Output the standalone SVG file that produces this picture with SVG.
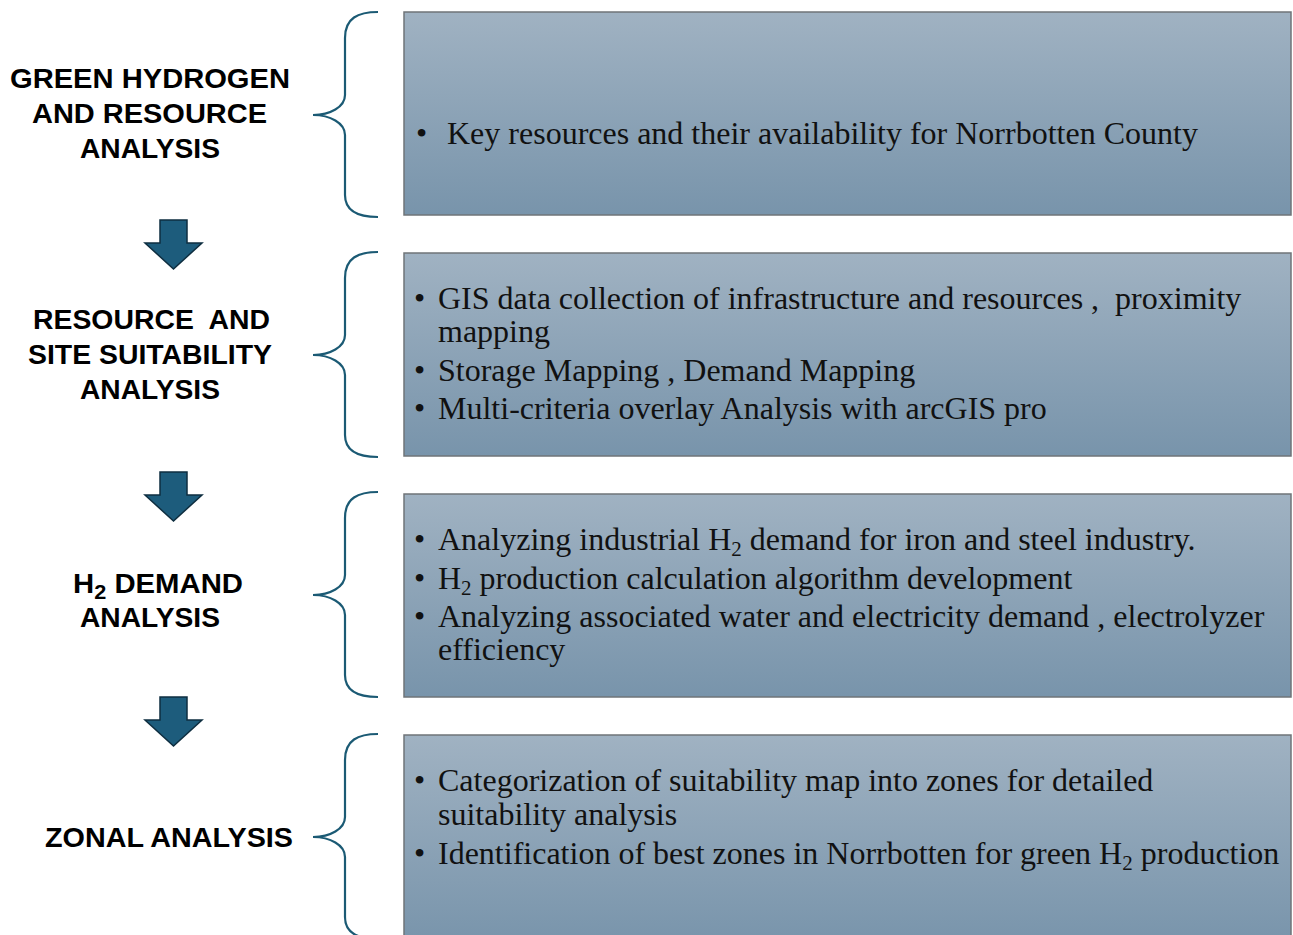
<svg xmlns="http://www.w3.org/2000/svg" width="1293" height="935" viewBox="0 0 1293 935">
  <defs>
    <linearGradient id="boxFill" x1="0" y1="0" x2="0" y2="1">
      <stop offset="0" stop-color="#a0b2c2"/>
      <stop offset="1" stop-color="#7894ab"/>
    </linearGradient>
    <path id="brace" d="M378,0 C358,0 345,6 345,26 L345,83 C345,95 330,103 313,103 C330,103 345,111 345,123 L345,183 C345,199 358,205 378,205"/>
    <path id="arrow" d="M160,0 L187,0 L187,23 L202,23 L173.5,49 L145,23 L160,23 Z"/>
  </defs>
  <style>
    .box { fill: url(#boxFill); stroke: #6f7478; stroke-width: 1.5; }
    .brace { fill: none; stroke: #1b5a74; stroke-width: 2.2; }
    .arrow { fill: #1d5c7c; stroke: #0e2e40; stroke-width: 1.5; }
    .label { font-family: "Liberation Sans", Arial, sans-serif; font-weight: bold; font-size: 27px; fill: #000; }
    .item { font-family: "Liberation Serif", "Times New Roman", serif; font-size: 32px; fill: #111; }
    .sub { font-size: 21px; }
    .lsub { font-size: 20px; }
  </style>
  <rect width="1293" height="935" fill="#ffffff"/>

  <!-- stage 1 -->
  <g id="stage1">
    <text class="label" x="10" y="88" textLength="280" lengthAdjust="spacingAndGlyphs">GREEN HYDROGEN</text>
    <text class="label" x="32" y="123" textLength="235" lengthAdjust="spacingAndGlyphs">AND RESOURCE</text>
    <text class="label" x="80" y="158" textLength="140" lengthAdjust="spacingAndGlyphs">ANALYSIS</text>
    <use href="#brace" class="brace" transform="translate(0,12)"/>
    <rect class="box" x="404" y="12" width="887" height="203"/>
    <text class="item"><tspan x="416" y="144">•</tspan><tspan x="447" y="144">Key resources and their availability for Norrbotten County</tspan></text>
  </g>

  <!-- stage 2 -->
  <g id="stage2">
    <text class="label" x="33" y="329" textLength="237" lengthAdjust="spacingAndGlyphs" xml:space="preserve">RESOURCE  AND</text>
    <text class="label" x="28" y="364" textLength="244" lengthAdjust="spacingAndGlyphs">SITE SUITABILITY</text>
    <text class="label" x="80" y="399" textLength="140" lengthAdjust="spacingAndGlyphs">ANALYSIS</text>
    <use href="#brace" class="brace" transform="translate(0,252)"/>
    <rect class="box" x="404" y="253" width="887" height="203"/>
    <text class="item" xml:space="preserve"><tspan x="414" y="309">•</tspan><tspan x="438" y="309">GIS data collection of infrastructure and resources ,  proximity</tspan><tspan x="438" y="342">mapping</tspan><tspan x="414" y="381">•</tspan><tspan x="438" y="381">Storage Mapping , Demand Mapping</tspan><tspan x="414" y="419">•</tspan><tspan x="438" y="419">Multi-criteria overlay Analysis with arcGIS pro</tspan></text>
  </g>

  <!-- stage 3 -->
  <g id="stage3">
    <text class="label" x="73" y="593" textLength="170" lengthAdjust="spacingAndGlyphs">H<tspan class="lsub" dy="6">2</tspan><tspan dy="-6"> DEMAND</tspan></text>
    <text class="label" x="80" y="627" textLength="140" lengthAdjust="spacingAndGlyphs">ANALYSIS</text>
    <use href="#brace" class="brace" transform="translate(0,492)"/>
    <rect class="box" x="404" y="494" width="887" height="203"/>
    <text class="item"><tspan x="414" y="550">•</tspan><tspan x="438" y="550">Analyzing industrial H<tspan class="sub" dy="6">2</tspan><tspan dy="-6"> demand for iron and steel industry.</tspan></tspan><tspan x="414" y="589">•</tspan><tspan x="438" y="589">H<tspan class="sub" dy="6">2</tspan><tspan dy="-6"> production calculation algorithm development</tspan></tspan><tspan x="414" y="627">•</tspan><tspan x="438" y="627">Analyzing associated water and electricity demand , electrolyzer</tspan><tspan x="438" y="660">efficiency</tspan></text>
  </g>

  <!-- stage 4 -->
  <g id="stage4">
    <text class="label" x="45" y="847" textLength="248" lengthAdjust="spacingAndGlyphs">ZONAL ANALYSIS</text>
    <use href="#brace" class="brace" transform="translate(0,734)"/>
    <rect class="box" x="404" y="735" width="887" height="210"/>
    <text class="item"><tspan x="414" y="791">•</tspan><tspan x="438" y="791">Categorization of suitability map into zones for detailed</tspan><tspan x="438" y="825">suitability analysis</tspan><tspan x="414" y="864">•</tspan><tspan x="438" y="864">Identification of best zones in Norrbotten for green H<tspan class="sub" dy="6">2</tspan><tspan dy="-6"> production</tspan></tspan></text>
  </g>

  <!-- flow arrows between stages -->
  <g id="connectors">
    <use href="#arrow" class="arrow" transform="translate(0,220)"/>
    <use href="#arrow" class="arrow" transform="translate(0,472)"/>
    <use href="#arrow" class="arrow" transform="translate(0,697)"/>
  </g>
</svg>
